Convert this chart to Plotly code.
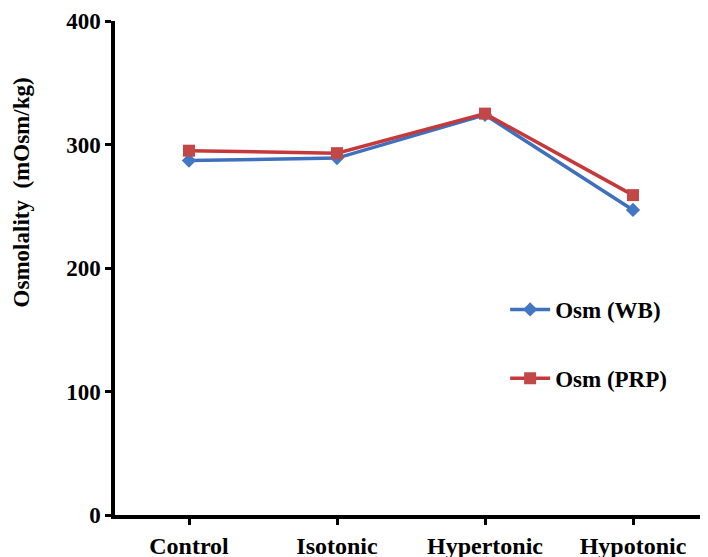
import plotly.graph_objects as go

categories = ["Control", "Isotonic", "Hypertonic", "Hypotonic"]
osm_wb = [287, 289, 324, 247]
osm_prp = [295, 293, 325, 259]
y_ticks = [0, 100, 200, 300, 400]
y_title = "Osmolality  (mOsm/kg)"

font_family = "Liberation Serif"

fig = go.Figure()
fig.add_trace(go.Scatter(
    x=categories, y=osm_wb, name="<b>Osm (WB)</b>", mode="lines+markers",
    line=dict(color="#3E70BE", width=3.5),
    marker=dict(symbol="diamond", size=11, color="#4277C4"),
    legendgroup="wb",
))
fig.add_trace(go.Scatter(
    x=categories, y=osm_prp, name="<b>Osm (PRP)</b>", mode="lines+markers",
    line=dict(color="#C6393A", width=3.5),
    marker=dict(symbol="square", size=12, color="#C24848"),
    legendgroup="prp",
))

fig.update_layout(
    width=708, height=557,
    margin=dict(l=107, r=9, t=13, b=50, autoexpand=False),
    paper_bgcolor="white", plot_bgcolor="white",
    font=dict(family=font_family, color="black", size=22),
    showlegend=True,
    legend=dict(
        x=0.659, y=0.4595, xanchor="left", yanchor="top",
        font=dict(family=font_family, size=23, color="black"),
        tracegroupgap=36, itemwidth=40,
        bgcolor="rgba(0,0,0,0)",
    ),
)
fig.add_annotation(
    text=f"<b>{y_title}</b>", textangle=-90,
    xref="paper", yref="paper", x=-0.158, y=0.654,
    xanchor="center", yanchor="middle", showarrow=False,
    font=dict(family=font_family, size=23, color="black"),
)
fig.update_xaxes(
    type="category", range=[-0.5, 3.5], automargin=False,
    showline=True, linecolor="black", linewidth=3.5,
    ticks="outside", ticklen=6, tickwidth=3, tickcolor="black",
    showgrid=False, zeroline=False,
    tickfont=dict(family=font_family, size=24),
    tickprefix="<b>", ticksuffix="</b>",
)
fig.update_yaxes(
    range=[0, 400], tickvals=y_ticks, automargin=False,
    ticktext=[f"<b>{v}</b>" for v in y_ticks],
    showline=True, linecolor="black", linewidth=3.5,
    ticks="outside", ticklen=6, tickwidth=3, tickcolor="black",
    showgrid=False, zeroline=False, ticklabeloverflow="allow",
    tickfont=dict(family=font_family, size=23),
)

fig.write_html("out.html")
